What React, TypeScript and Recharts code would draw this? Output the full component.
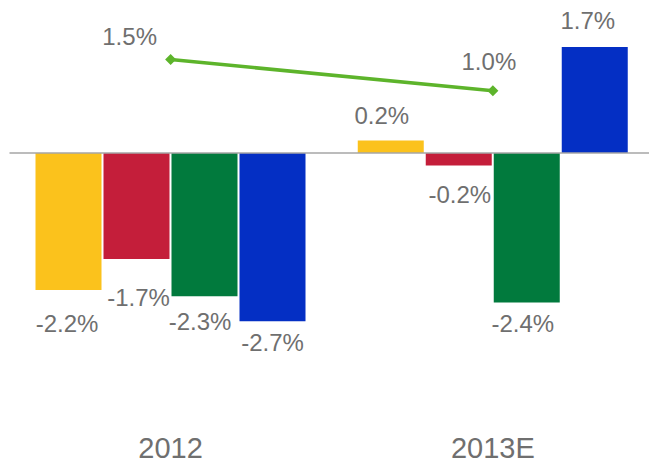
import React from 'react';
import { ComposedChart, Bar, Line, XAxis, YAxis, ReferenceLine, LabelList } from 'recharts';

const categories = ['2012', '2013E'];
const seriesA = [-2.2, 0.2];
const seriesB = [-1.7, -0.2];
const seriesC = [-2.3, -2.4];
const seriesD = [-2.7, 1.7];
const lineValues = [1.5, 1.0];

const chartData = categories.map((name, i) => ({
  name,
  a: seriesA[i],
  b: seriesB[i],
  c: seriesC[i],
  d: seriesD[i],
  line: lineValues[i],
}));

const TEXT = '#6f6f6f';
const FONT = '"Liberation Sans", Arial, sans-serif';

// small hand nudges for the value labels [dx, extra distance]
const barNudge: Record<string, [number, number][]> = {
  a: [[-1.5, 6], [-9, -2]],
  b: [[2, 11], [1, 2]],
  c: [[-4.5, -2], [-4, -6]],
  d: [[0, -6], [-7, 0]],
};
const lineNudge: [number, number][] = [[-41, -23], [-4, -29]];

const fmt = (v: number) => `${v.toFixed(1)}%`;

const makeBarLabel = (key: string) => (props: any) => {
  const { x, y, width, height, value, index } = props;
  const top = Math.min(y, y + height);
  const bottom = Math.max(y, y + height);
  const [dx, extra] = barNudge[key][index] || [0, 0];
  const dist = 27 + extra;
  const cy = value >= 0 ? top - dist : bottom + dist;
  return (
    <text x={x + width / 2 + dx} y={cy + 8.6} textAnchor="middle" fill={TEXT} fontSize={24} fontFamily={FONT}>
      {fmt(value)}
    </text>
  );
};

const LineLabel = (props: any) => {
  const { x, y, value, index } = props;
  const [dx, dy] = lineNudge[index] || [0, -25];
  return (
    <text x={x + dx} y={y + dy + 8.6} textAnchor="middle" fill={TEXT} fontSize={24} fontFamily={FONT}>
      {fmt(value)}
    </text>
  );
};

const Diamond = (props: any) => {
  const { cx, cy } = props;
  if (cx == null || cy == null) return null;
  const r = 5.5;
  return <polygon points={`${cx},${cy - r} ${cx + r},${cy} ${cx},${cy + r} ${cx - r},${cy}`} fill="#5db42b" />;
};

const App: React.FC = () => {
  return (
    <div style={{ position: 'absolute', left: 0, top: 0, width: 649, height: 469, overflow: 'hidden', background: '#fff' }}>
      <ComposedChart
        width={654}
        height={469}
        data={chartData}
        margin={{ top: 3.5, right: 0, left: 9.5, bottom: 6.8 }}
        barGap={2}
        style={{ fontFamily: FONT }}
      >
        <XAxis
          dataKey="name"
          axisLine={false}
          tickLine={false}
          tickSize={0}
          tickMargin={35}
          height={60}
          tick={{ fill: TEXT, fontSize: 29, fontFamily: FONT }}
        />
        <YAxis hide domain={[-4, 2.4]} type="number" allowDataOverflow />
        <ReferenceLine y={0} stroke="#a6a6a6" strokeWidth={1.5} />
        <Bar dataKey="a" fill="#fbc21c" barSize={66} isAnimationActive={false}>
          <LabelList dataKey="a" content={makeBarLabel('a')} />
        </Bar>
        <Bar dataKey="b" fill="#c41e3a" barSize={66} isAnimationActive={false}>
          <LabelList dataKey="b" content={makeBarLabel('b')} />
        </Bar>
        <Bar dataKey="c" fill="#017a3d" barSize={66} isAnimationActive={false}>
          <LabelList dataKey="c" content={makeBarLabel('c')} />
        </Bar>
        <Bar dataKey="d" fill="#042fc4" barSize={66} isAnimationActive={false}>
          <LabelList dataKey="d" content={makeBarLabel('d')} />
        </Bar>
        <Line
          dataKey="line"
          stroke="#5db42b"
          strokeWidth={3.5}
          dot={<Diamond />}
          activeDot={false}
          isAnimationActive={false}
        >
          <LabelList dataKey="line" content={LineLabel} />
        </Line>
      </ComposedChart>
    </div>
  );
};

export default App;
